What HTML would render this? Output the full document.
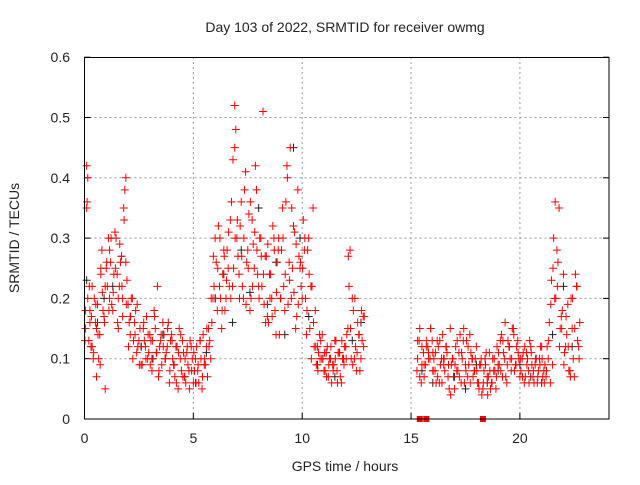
<!DOCTYPE html>
<html><head><meta charset="utf-8"><style>
body{margin:0;background:#fff;font-family:"Liberation Sans",sans-serif}
svg text{font-family:"Liberation Sans",sans-serif;font-size:14px;fill:#222}
</style></head><body>
<svg id="chart" width="640" height="480">
<text x="345" y="32" text-anchor="middle">Day 103 of 2022, SRMTID for receiver owmg</text>
<text x="345" y="471" text-anchor="middle">GPS time / hours</text>
<text transform="translate(19,238) rotate(-90)" text-anchor="middle">SRMTID / TECUs</text>
<g id="grid"></g><g id="ticks"></g><g id="marks"></g>
<rect x="84.5" y="57.5" width="524.5" height="361.5" fill="none" stroke="#000" stroke-width="1"/>
</svg>
<script>
const xTicks=[0,5,10,15,20];
const yTicks=[0,0.1,0.2,0.3,0.4,0.5,0.6];
const yTickLabels=["0","0.1","0.2","0.3","0.4","0.5","0.6"];
// red series A: time (h), value
const redT=[0.05,0.1,0.1,0.15,0.2,0.25,0.3,0.35,0.4,0.5,0.55,0.6,0.7,0.75,0.8,0.9,0.95,1.0,1.1,1.15,1.2,1.3,1.4,1.5,1.55,1.6,1.7,1.75,1.8,1.9,1.9,2.0,2.1,2.2,2.3,2.4,2.5,2.6,2.7,2.8,2.9,3.0,3.1,3.2,3.3,3.4,3.5,3.6,3.7,3.8,3.9,4.0,4.1,4.2,4.3,4.4,4.5,4.6,4.7,4.8,4.9,5.0,5.1,5.2,5.3,5.4,5.5,5.6,5.7,5.8,5.9,6.0,6.1,6.2,6.3,6.4,6.5,6.6,6.7,6.8,6.9,6.9,7.0,7.1,7.2,7.3,7.4,7.5,7.6,7.7,7.8,7.9,8.0,8.1,8.2,8.3,8.4,8.5,8.6,8.7,8.8,8.9,9.0,9.1,9.2,9.3,9.4,9.5,9.6,9.7,9.8,9.9,10.0,10.1,10.2,10.3,10.4,10.5,10.6,10.7,10.8,10.9,11.0,11.1,11.2,11.3,11.4,11.5,11.6,11.7,11.8,11.9,12.0,12.1,12.2,12.3,12.4,12.5,12.6,12.7,12.8,15.3,15.4,15.5,15.6,15.7,15.8,15.9,16.0,16.1,16.2,16.3,16.4,16.5,16.6,16.7,16.8,16.9,17.0,17.1,17.2,17.3,17.4,17.5,17.6,17.7,17.8,17.9,18.0,18.1,18.2,18.3,18.4,18.5,18.6,18.7,18.8,18.9,19.0,19.1,19.2,19.3,19.4,19.5,19.6,19.7,19.8,19.9,20.0,20.1,20.2,20.3,20.4,20.5,20.6,20.7,20.8,20.9,21.0,21.1,21.2,21.3,21.4,21.5,21.6,21.7,21.8,21.9,22.0,22.1,22.2,22.3,22.4,22.5,22.6,22.7];
const redV=[0.15,0.42,0.35,0.2,0.13,0.18,0.12,0.22,0.1,0.16,0.07,0.19,0.14,0.24,0.28,0.17,0.22,0.25,0.3,0.2,0.26,0.18,0.31,0.24,0.15,0.22,0.27,0.2,0.35,0.4,0.26,0.19,0.14,0.2,0.16,0.11,0.13,0.09,0.15,0.12,0.1,0.14,0.08,0.18,0.11,0.07,0.13,0.16,0.1,0.12,0.06,0.14,0.09,0.12,0.05,0.1,0.13,0.07,0.11,0.08,0.12,0.06,0.1,0.08,0.13,0.05,0.09,0.12,0.15,0.1,0.2,0.3,0.18,0.22,0.15,0.28,0.2,0.25,0.33,0.22,0.52,0.45,0.3,0.24,0.36,0.2,0.41,0.28,0.18,0.33,0.25,0.38,0.22,0.3,0.51,0.27,0.17,0.24,0.2,0.3,0.14,0.28,0.2,0.35,0.18,0.42,0.26,0.2,0.32,0.15,0.38,0.25,0.2,0.28,0.14,0.3,0.22,0.35,0.18,0.12,0.14,0.1,0.08,0.11,0.07,0.1,0.09,0.13,0.08,0.11,0.06,0.1,0.12,0.15,0.28,0.2,0.1,0.08,0.14,0.1,0.17,0.13,0.15,0.09,0.07,0.12,0.1,0.15,0.11,0.08,0.13,0.06,0.1,0.09,0.12,0.07,0.15,0.1,0.05,0.08,0.11,0.06,0.13,0.09,0.07,0.14,0.1,0.08,0.12,0.06,0.09,0.05,0.1,0.07,0.11,0.06,0.08,0.05,0.09,0.13,0.07,0.1,0.06,0.12,0.08,0.15,0.09,0.13,0.07,0.1,0.06,0.11,0.08,0.12,0.07,0.09,0.06,0.1,0.12,0.08,0.07,0.1,0.06,0.09,0.2,0.28,0.35,0.17,0.24,0.12,0.19,0.08,0.15,0.07,0.22,0.12,0.25];
// red series B & C: regularly sampled segments (start hour, values every 0.1 h)
const segStarts=[0,1,2,3,4,5,6,7,8,9,10,11,12,15.25,16,17,18,19,20,21,22];
const redB=[
[0.18,0.4,0.16,0.12,0.2,0.15,0.1,0.25,0.18,0.05],
[0.22,0.28,0.19,0.24,0.3,0.2,0.26,0.17,0.38,0.23],
[0.16,0.2,0.13,0.18,0.12,0.15,0.09,0.13,0.17,0.11],
[0.13,0.1,0.15,0.22,0.12,0.09,0.14,0.11,0.16,0.13],
[0.1,0.07,0.12,0.15,0.08,0.11,0.06,0.09,0.13,0.1],
[0.08,0.12,0.06,0.1,0.14,0.09,0.07,0.13,0.16,0.22],
[0.26,0.32,0.2,0.24,0.18,0.28,0.22,0.36,0.25,0.48],
[0.27,0.32,0.22,0.38,0.26,0.34,0.2,0.29,0.42,0.24],
[0.3,0.22,0.19,0.27,0.16,0.24,0.32,0.18,0.26,0.14],
[0.28,0.22,0.36,0.19,0.45,0.25,0.31,0.17,0.27,0.22],
[0.33,0.2,0.28,0.15,0.22,0.12,0.09,0.11,0.13,0.1],
[0.08,0.12,0.1,0.06,0.09,0.13,0.11,0.07,0.1,0.12],
[0.14,0.22,0.1,0.18,0.12,0.16,0.08,0.13,0.17],
[0.1,0.07,0.12,0.09,0.13,0.11,0.15,0.08],
[0.1,0.06,0.12,0.09,0.14,0.08,0.11,0.05,0.09,0.07],
[0.12,0.08,0.14,0.1,0.06,0.13,0.09,0.11,0.07,0.1],
[0.06,0.09,0.04,0.08,0.11,0.07,0.05,0.1,0.08,0.12],
[0.09,0.14,0.11,0.07,0.13,0.1,0.15,0.08,0.12,0.1],
[0.08,0.11,0.07,0.1,0.13,0.09,0.06,0.1,0.08,0.12],
[0.07,0.09,0.12,0.16,0.23,0.3,0.2,0.26,0.15,0.18],
[0.11,0.14,0.08,0.2,0.1,0.24,0.13,0.16]];
const redC=[
[0.13,0.36,0.22,0.17,0.11,0.19,0.14,0.09,0.21,0.16],
[0.26,0.18,0.3,0.21,0.25,0.16,0.29,0.22,0.33,0.19],
[0.12,0.17,0.1,0.14,0.19,0.09,0.12,0.16,0.1,0.14],
[0.09,0.13,0.17,0.11,0.08,0.14,0.12,0.1,0.15,0.08],
[0.13,0.09,0.06,0.11,0.14,0.07,0.1,0.12,0.05,0.08],
[0.11,0.06,0.09,0.13,0.07,0.1,0.15,0.12,0.2,0.27],
[0.2,0.25,0.3,0.18,0.27,0.23,0.31,0.2,0.43,0.3],
[0.33,0.2,0.27,0.3,0.19,0.25,0.36,0.22,0.31,0.28],
[0.2,0.27,0.24,0.16,0.29,0.2,0.17,0.28,0.21,0.3],
[0.2,0.3,0.24,0.4,0.23,0.35,0.21,0.29,0.19,0.26],
[0.25,0.3,0.18,0.24,0.1,0.16,0.12,0.08,0.1,0.14],
[0.11,0.07,0.09,0.12,0.08,0.1,0.06,0.11,0.13,0.09],
[0.1,0.27,0.15,0.09,0.2,0.11,0.14,0.18,0.12],
[0.08,0.13,0.06,0.11,0.09,0.12,0.1,0.13],
[0.08,0.11,0.07,0.13,0.06,0.1,0.12,0.09,0.04,0.1],
[0.09,0.13,0.07,0.11,0.15,0.08,0.12,0.06,0.1,0.08],
[0.08,0.05,0.1,0.06,0.09,0.04,0.08,0.06,0.1,0.07],
[0.11,0.08,0.13,0.16,0.09,0.12,0.1,0.14,0.09,0.11],
[0.1,0.07,0.12,0.09,0.06,0.11,0.08,0.1,0.07,0.09],
[0.1,0.06,0.08,0.13,0.19,0.25,0.36,0.22,0.12,0.15],
[0.09,0.17,0.12,0.07,0.2,0.15,0.22,0.1]];
// black series
const blackT=[0.1,0.3,0.6,0.9,1.3,1.7,2.1,2.6,3.1,3.6,4.1,4.6,5.1,5.6,6.0,6.4,6.8,7.2,7.6,8.0,8.4,8.8,9.2,9.6,9.9,10.3,10.7,11.1,11.5,11.9,12.3,12.7,15.5,16.0,16.5,17.0,17.5,18.0,18.5,19.0,19.5,20.0,20.5,21.0,21.5,22.0,22.4];
const blackV=[0.23,0.12,0.16,0.2,0.22,0.27,0.17,0.12,0.1,0.14,0.09,0.07,0.06,0.11,0.2,0.24,0.16,0.28,0.21,0.35,0.19,0.26,0.14,0.45,0.3,0.17,0.09,0.11,0.07,0.1,0.13,0.16,0.08,0.06,0.1,0.07,0.05,0.09,0.06,0.08,0.12,0.09,0.07,0.06,0.14,0.22,0.12];
// zero-value markers (squares)
const zeroT=[15.4,15.7,18.3];
const X=t=>84.5+t*21.77, Y=v=>419-v*603;
const NS="http://www.w3.org/2000/svg";
function mk(tag,attrs,parent){const e=document.createElementNS(NS,tag);for(const k in attrs)e.setAttribute(k,attrs[k]);parent.appendChild(e);return e;}
const grid=document.getElementById('grid'),ticks=document.getElementById('ticks'),marks=document.getElementById('marks');
xTicks.forEach(t=>{const x=X(t);
 if(t>0){const g=mk('line',{x1:x,x2:x,y1:57,y2:419,stroke:'#999','stroke-dasharray':'2,3'},grid);
 
 }
 mk('line',{x1:x,x2:x,y1:419,y2:413,stroke:'#000'},ticks);
 const l=mk('text',{x:x,y:443,'text-anchor':'middle'},ticks);l.textContent=t;
 
 });
yTicks.forEach((v,i)=>{const y=Y(v);
 if(v>0&&v<0.6){const g=mk('line',{x1:84.5,x2:609,y1:y,y2:y,stroke:'#999','stroke-dasharray':'2,3'},grid);
 
 }
 mk('line',{x1:84.5,x2:90.5,y1:y,y2:y,stroke:'#000'},ticks);mk('line',{x1:609,x2:603,y1:y,y2:y,stroke:'#000'},ticks);
 const l=mk('text',{x:70,y:y+5,'text-anchor':'end'},ticks);l.textContent=yTickLabels[i];
 
 });
function plus(t,v,c,name){const x=X(t),y=Y(v);
 const p=mk('path',{d:`M${x-4},${y}h8M${x},${y-4}v8`,stroke:c,'stroke-width':1,fill:'none'},marks);
 
 }
blackT.forEach((t,i)=>plus(t,blackV[i],'#222','black-point'));
redT.forEach((t,i)=>plus(t,redV[i],'#f00','red-point'));
segStarts.forEach((s,k)=>{
 redB[k].forEach((v,i)=>plus(s+0.05+i*0.1,v,'#f00','red-point'));
 redC[k].forEach((v,i)=>plus(s+0.02+i*0.1,v,'#f00','red-point'));
});
zeroT.forEach(t=>{const r=mk('rect',{x:X(t)-3,y:416,width:6,height:6,fill:'#f00'},marks);
 
 });
</script>
</body></html>
